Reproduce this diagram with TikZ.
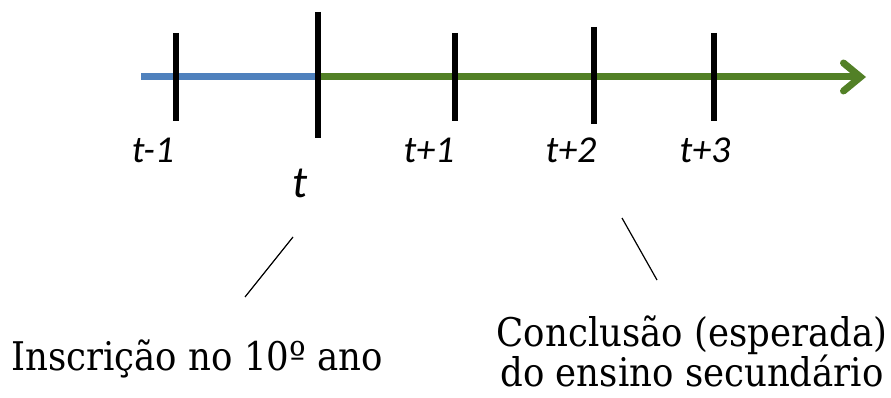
\documentclass[tikz,border=0pt]{standalone}
\usepackage{fontspec}
\setmainfont{DejaVu Serif Condensed}
\newfontfamily\labelfont{Carlito}
\usetikzlibrary{arrows.meta}
\definecolor{lineblue}{RGB}{79,129,189}
\definecolor{linegreen}{RGB}{82,128,38}
\begin{document}
\begin{tikzpicture}[x=1pt,y=-1pt,
  tick/.style={line width=6pt},
  tlabel/.style={font=\labelfont\itshape\fontsize{38}{38}\selectfont,anchor=base,inner sep=0pt},
  note/.style={font=\fontsize{39.5}{40}\selectfont,align=center,inner sep=0pt}]
\useasboundingbox(0,0)rectangle(891,398);
% time line
\draw[lineblue,line width=7pt](141,77)--(318,77);
\draw[linegreen,line width=7pt,-{Straight Barb[length=17pt,width=28pt,line cap=round]}](318,77)--(866,77);
\foreach \x/\a/\b in {176/33/121,318/12/138,455/33/121,594/27/124,714/33/121}{\draw[tick](\x,\a)--(\x,\b);}
% labels
\foreach \n/\x/\s in {m1/153/t-1,p1/429/t+1,p2/571/t+2,p3/705/t+3}{\node[tlabel](l\n)at(\x,163){\s};}
\node[tlabel,font=\labelfont\itshape\fontsize{45}{45}\selectfont](l0)at(300,198){t};
% notes
\node[note,anchor=base](inscr)at(197,370){Inscrição no 10º ano};
\node[note,anchor=north](concl)at(692,316){Conclusão (esperada)\\do ensino secundário};
\coordinate(inscA)at(293,237);\coordinate(inscB)at(245,297);
\coordinate(conclA)at(622,218);\coordinate(conclB)at(657,280);
\draw[line width=1.2pt](inscA)--(inscB);
\draw[line width=1.2pt](conclA)--(conclB);
\end{tikzpicture}
\end{document}
